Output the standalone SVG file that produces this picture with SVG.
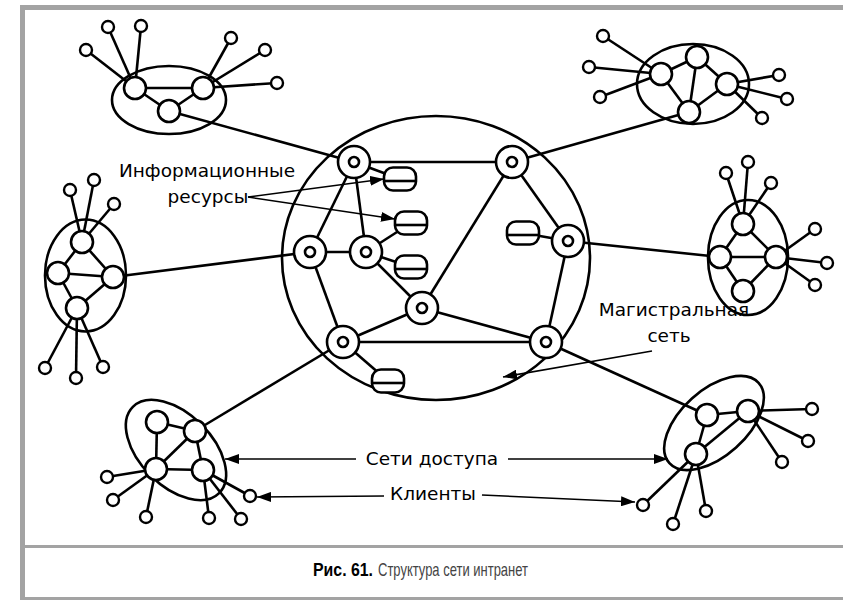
<svg xmlns="http://www.w3.org/2000/svg" width="843" height="600" viewBox="0 0 843 600">
<style>
.ln{stroke:#000;stroke-width:2.6;fill:none}
.el{stroke:#000;stroke-width:2.6;fill:none}
.n{stroke:#000;stroke-width:2.6;fill:#fff}
.s{stroke:#000;stroke-width:2.4;fill:#fff}
.ar{stroke:#000;stroke-width:1.5;fill:none}
.t{font-family:"DejaVu Sans",Verdana,sans-serif;font-size:18.5px;fill:#000;text-anchor:middle}
.cap{font-family:"Liberation Sans",Arial,sans-serif;font-size:19px}
</style>
<defs>
<marker id="ah" viewBox="0 0 14 10" refX="14" refY="5" markerWidth="14" markerHeight="10" markerUnits="userSpaceOnUse" orient="auto">
<path d="M0,0 L14,5 L0,10 Z" fill="#000"/>
</marker>
<g id="db"><rect x="-16" y="-11.5" width="32" height="23" rx="9" class="n"/><path d="M-16,2 L16,2" class="ln" stroke-width="2.2"/></g>
<g id="bn"><circle r="16" class="n"/><circle r="5" class="n" stroke-width="2.4"/></g>
</defs>
<rect x="0" y="0" width="843" height="600" fill="#fff"/>
<g id="frame" fill="#a3a3a3">
<rect x="20" y="5" width="823" height="5"/>
<rect x="20" y="5" width="5" height="595"/>
<rect x="25" y="545" width="818" height="3"/>
<rect x="20" y="597" width="823" height="3"/>
</g>
<g id="connectors">
<!-- top-left cluster -->
<line class="ln" x1="135" y1="88" x2="86" y2="50"/><line class="ln" x1="135" y1="88" x2="108" y2="27"/><line class="ln" x1="135" y1="88" x2="141" y2="26"/>
<line class="ln" x1="203" y1="88" x2="231" y2="38"/><line class="ln" x1="203" y1="88" x2="265" y2="50"/><line class="ln" x1="203" y1="88" x2="277" y2="83"/>
<line class="ln" x1="135" y1="88" x2="203" y2="88"/><line class="ln" x1="135" y1="88" x2="169" y2="111"/><line class="ln" x1="203" y1="88" x2="169" y2="111"/>
<line class="ln" x1="169" y1="111" x2="354" y2="162"/>
<!-- top-right cluster -->
<line class="ln" x1="661" y1="74" x2="603" y2="36"/><line class="ln" x1="661" y1="74" x2="589" y2="67"/><line class="ln" x1="661" y1="74" x2="600" y2="97"/>
<line class="ln" x1="727" y1="84" x2="779" y2="75"/><line class="ln" x1="727" y1="84" x2="787" y2="99"/><line class="ln" x1="727" y1="84" x2="762" y2="118"/>
<line class="ln" x1="661" y1="74" x2="697" y2="57"/><line class="ln" x1="697" y1="57" x2="689" y2="112"/><line class="ln" x1="697" y1="57" x2="727" y2="84"/><line class="ln" x1="661" y1="74" x2="689" y2="112"/><line class="ln" x1="727" y1="84" x2="689" y2="112"/>
<line class="ln" x1="689" y1="112" x2="512" y2="162"/>
<!-- left cluster -->
<line class="ln" x1="82" y1="242" x2="70" y2="190"/><line class="ln" x1="82" y1="242" x2="94" y2="180"/><line class="ln" x1="82" y1="242" x2="114" y2="204"/>
<line class="ln" x1="77" y1="308" x2="45" y2="368"/><line class="ln" x1="77" y1="308" x2="76" y2="378"/><line class="ln" x1="77" y1="308" x2="103" y2="367"/>
<line class="ln" x1="82" y1="242" x2="58" y2="273"/><line class="ln" x1="82" y1="242" x2="113" y2="277"/><line class="ln" x1="58" y1="273" x2="113" y2="277"/><line class="ln" x1="58" y1="273" x2="77" y2="308"/><line class="ln" x1="113" y1="277" x2="77" y2="308"/>
<line class="ln" x1="113" y1="277" x2="310" y2="252"/>
<!-- right cluster -->
<line class="ln" x1="743" y1="224" x2="726" y2="173"/><line class="ln" x1="743" y1="224" x2="748" y2="162"/><line class="ln" x1="743" y1="224" x2="771" y2="183"/>
<line class="ln" x1="776" y1="257" x2="815" y2="229"/><line class="ln" x1="776" y1="257" x2="827" y2="263"/><line class="ln" x1="776" y1="257" x2="815" y2="285"/>
<line class="ln" x1="743" y1="224" x2="720" y2="257"/><line class="ln" x1="743" y1="224" x2="776" y2="257"/><line class="ln" x1="720" y1="257" x2="776" y2="257"/><line class="ln" x1="720" y1="257" x2="743" y2="291"/><line class="ln" x1="776" y1="257" x2="743" y2="291"/>
<line class="ln" x1="720" y1="257" x2="568" y2="241"/>
<!-- bottom-left cluster -->
<line class="ln" x1="156" y1="469" x2="107" y2="477"/><line class="ln" x1="156" y1="469" x2="113" y2="500"/><line class="ln" x1="156" y1="469" x2="146" y2="517"/>
<line class="ln" x1="203" y1="470" x2="209" y2="518"/><line class="ln" x1="203" y1="470" x2="241" y2="519"/><line class="ln" x1="203" y1="470" x2="250" y2="496"/>
<line class="ln" x1="157" y1="422" x2="195" y2="431"/><line class="ln" x1="157" y1="422" x2="156" y2="469"/><line class="ln" x1="195" y1="431" x2="156" y2="469"/><line class="ln" x1="195" y1="431" x2="203" y2="470"/><line class="ln" x1="156" y1="469" x2="203" y2="470"/>
<line class="ln" x1="195" y1="431" x2="343" y2="342"/>
<!-- bottom-right cluster -->
<line class="ln" x1="748" y1="411" x2="812" y2="409"/><line class="ln" x1="748" y1="411" x2="808" y2="441"/><line class="ln" x1="748" y1="411" x2="782" y2="462"/>
<line class="ln" x1="696" y1="454" x2="643" y2="505"/><line class="ln" x1="696" y1="454" x2="673" y2="524"/><line class="ln" x1="696" y1="454" x2="706" y2="511"/>
<line class="ln" x1="707" y1="415" x2="748" y2="411"/><line class="ln" x1="707" y1="415" x2="696" y2="454"/><line class="ln" x1="748" y1="411" x2="696" y2="454"/>
<line class="ln" x1="707" y1="415" x2="546" y2="342"/>
<!-- backbone -->
<line class="ln" x1="354" y1="162" x2="512" y2="162"/><line class="ln" x1="354" y1="162" x2="310" y2="252"/><line class="ln" x1="354" y1="162" x2="366" y2="252"/>
<line class="ln" x1="310" y1="252" x2="366" y2="252"/><line class="ln" x1="310" y1="252" x2="343" y2="342"/><line class="ln" x1="366" y1="252" x2="422" y2="308"/>
<line class="ln" x1="512" y1="162" x2="422" y2="308"/><line class="ln" x1="512" y1="162" x2="568" y2="241"/><line class="ln" x1="568" y1="241" x2="546" y2="342"/>
<line class="ln" x1="422" y1="308" x2="343" y2="342"/><line class="ln" x1="422" y1="308" x2="546" y2="342"/><line class="ln" x1="343" y1="342" x2="546" y2="342"/>
<line class="ln" x1="354" y1="162" x2="400" y2="179"/><line class="ln" x1="366" y1="252" x2="411" y2="223"/><line class="ln" x1="366" y1="252" x2="411" y2="267"/>
<line class="ln" x1="523" y1="233" x2="568" y2="241"/><line class="ln" x1="343" y1="342" x2="388" y2="381"/>
</g>
<g id="backbone">
<ellipse class="el" cx="436" cy="258" rx="154" ry="142"/>
<use href="#bn" x="354" y="162"/><use href="#bn" x="512" y="162"/><use href="#bn" x="310" y="252"/><use href="#bn" x="366" y="252"/>
<use href="#bn" x="568" y="241"/><use href="#bn" x="422" y="308"/><use href="#bn" x="343" y="342"/><use href="#bn" x="546" y="342"/>
<use href="#db" x="400" y="179"/><use href="#db" x="411" y="223"/><use href="#db" x="411" y="267"/><use href="#db" x="523" y="233"/><use href="#db" x="388" y="381"/>
</g>
<g id="cluster-top-left">
<ellipse class="el" cx="169" cy="100" rx="57" ry="34"/>
<circle class="n" cx="135" cy="88" r="11"/><circle class="n" cx="203" cy="88" r="11"/><circle class="n" cx="169" cy="111" r="11"/>
<circle class="s" cx="86" cy="50" r="6"/><circle class="s" cx="108" cy="27" r="6"/><circle class="s" cx="141" cy="26" r="6"/>
<circle class="s" cx="231" cy="38" r="6"/><circle class="s" cx="265" cy="50" r="6"/><circle class="s" cx="277" cy="83" r="6"/>
</g>
<g id="cluster-top-right">
<ellipse class="el" cx="693" cy="84" rx="56" ry="40"/>
<circle class="n" cx="661" cy="74" r="11"/><circle class="n" cx="697" cy="57" r="11"/><circle class="n" cx="727" cy="84" r="11"/><circle class="n" cx="689" cy="112" r="11"/>
<circle class="s" cx="603" cy="36" r="6"/><circle class="s" cx="589" cy="67" r="6"/><circle class="s" cx="600" cy="97" r="6"/>
<circle class="s" cx="779" cy="75" r="6"/><circle class="s" cx="787" cy="99" r="6"/><circle class="s" cx="762" cy="118" r="6"/>
</g>
<g id="cluster-left">
<ellipse class="el" cx="85.5" cy="275.5" rx="40.5" ry="56"/>
<circle class="n" cx="82" cy="242" r="11"/><circle class="n" cx="58" cy="273" r="11"/><circle class="n" cx="113" cy="277" r="11"/><circle class="n" cx="77" cy="308" r="11"/>
<circle class="s" cx="70" cy="190" r="6"/><circle class="s" cx="94" cy="180" r="6"/><circle class="s" cx="114" cy="204" r="6"/>
<circle class="s" cx="45" cy="368" r="6"/><circle class="s" cx="76" cy="378" r="6"/><circle class="s" cx="103" cy="367" r="6"/>
</g>
<g id="cluster-right">
<ellipse class="el" cx="748" cy="257.5" rx="40" ry="57.5"/>
<circle class="n" cx="743" cy="224" r="11"/><circle class="n" cx="720" cy="257" r="11"/><circle class="n" cx="776" cy="257" r="11"/><circle class="n" cx="743" cy="291" r="11"/>
<circle class="s" cx="726" cy="173" r="6"/><circle class="s" cx="748" cy="162" r="6"/><circle class="s" cx="771" cy="183" r="6"/>
<circle class="s" cx="815" cy="229" r="6"/><circle class="s" cx="827" cy="263" r="6"/><circle class="s" cx="815" cy="285" r="6"/>
</g>
<g id="cluster-bottom-left">
<ellipse class="el" cx="176" cy="450" rx="61" ry="36" transform="rotate(45 176 450)"/>
<circle class="n" cx="157" cy="422" r="11"/><circle class="n" cx="195" cy="431" r="11"/><circle class="n" cx="156" cy="469" r="11"/><circle class="n" cx="203" cy="470" r="11"/>
<circle class="s" cx="107" cy="477" r="6"/><circle class="s" cx="113" cy="500" r="6"/><circle class="s" cx="146" cy="517" r="6"/>
<circle class="s" cx="209" cy="518" r="6"/><circle class="s" cx="241" cy="519" r="6"/><circle class="s" cx="250" cy="496" r="6"/>
</g>
<g id="cluster-bottom-right">
<ellipse class="el" cx="714" cy="423" rx="60" ry="33" transform="rotate(-42 714 423)"/>
<circle class="n" cx="707" cy="415" r="11"/><circle class="n" cx="748" cy="411" r="11"/><circle class="n" cx="696" cy="454" r="11"/>
<circle class="s" cx="812" cy="409" r="6"/><circle class="s" cx="808" cy="441" r="6"/><circle class="s" cx="782" cy="462" r="6"/>
<circle class="s" cx="643" cy="505" r="6"/><circle class="s" cx="673" cy="524" r="6"/><circle class="s" cx="706" cy="511" r="6"/>
</g>
<g id="labels">
<text class="t" x="207" y="177">Информационные</text>
<text class="t" x="208" y="203">ресурсы</text>
<line class="ar" x1="248" y1="197" x2="384" y2="179" marker-end="url(#ah)"/>
<line class="ar" x1="248" y1="197" x2="395" y2="219" marker-end="url(#ah)"/>
<text class="t" x="674" y="316">Магистральная</text>
<text class="t" x="669" y="342">сеть</text>
<line class="ar" x1="652" y1="351" x2="503" y2="377" marker-end="url(#ah)"/>
<text class="t" x="432" y="465">Сети доступа</text>
<line class="ar" x1="356" y1="459" x2="225" y2="459" marker-end="url(#ah)"/>
<line class="ar" x1="508" y1="459" x2="668" y2="459" marker-end="url(#ah)"/>
<text class="t" x="433" y="500">Клиенты</text>
<line class="ar" x1="384" y1="496" x2="257" y2="497" marker-end="url(#ah)"/>
<line class="ar" x1="482" y1="495" x2="635" y2="502" marker-end="url(#ah)"/>
</g>
<g id="caption">
<text class="cap" x="313" y="576" font-weight="bold" fill="#000" textLength="60" lengthAdjust="spacingAndGlyphs">Рис. 61.</text>
<text class="cap" x="378" y="576" fill="#444" textLength="150" lengthAdjust="spacingAndGlyphs">Структура сети интранет</text>
</g>
</svg>
